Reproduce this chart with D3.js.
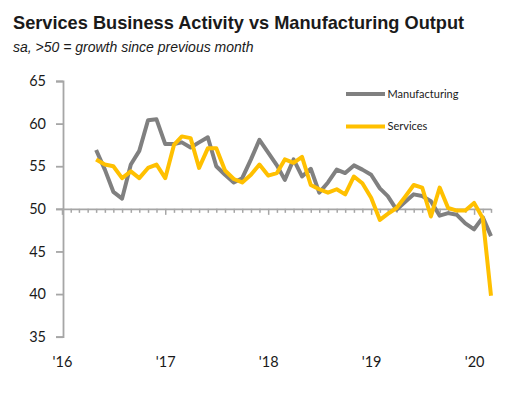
<!DOCTYPE html>
<html>
<head>
<meta charset="utf-8">
<script src="https://cdn.jsdelivr.net/npm/d3@7"></script>
<style>
  html, body { margin: 0; padding: 0; background: #ffffff; }
  svg { display: block; }
</style>
</head>
<body>
<script>
// ---- data ----
const months = [
  "2016-05","2016-06","2016-07","2016-08","2016-09","2016-10","2016-11","2016-12",
  "2017-01","2017-02","2017-03","2017-04","2017-05","2017-06","2017-07","2017-08","2017-09","2017-10","2017-11","2017-12",
  "2018-01","2018-02","2018-03","2018-04","2018-05","2018-06","2018-07","2018-08","2018-09","2018-10","2018-11","2018-12",
  "2019-01","2019-02","2019-03","2019-04","2019-05","2019-06","2019-07","2019-08","2019-09","2019-10","2019-11","2019-12",
  "2020-01","2020-02","2020-03"
];
const manufacturing = [
  56.9, 54.6, 52.0, 51.2, 55.2, 56.8, 60.4, 60.5,
  57.6, 57.6, 57.8, 57.2, 57.8, 58.4, 55.0, 54.0, 53.1, 53.6, 55.8, 58.1,
  56.6, 55.1, 53.4, 55.8, 53.8, 54.7, 51.9, 53.1, 54.6, 54.2, 55.1, 54.6,
  54.0, 52.4, 51.5, 49.9, 50.8, 51.7, 51.5, 50.9, 49.2, 49.5, 49.3, 48.3,
  47.6, 49.0, 46.8
];
const services = [
  55.8, 55.2, 55.0, 53.6, 54.4, 53.6, 54.8, 55.2,
  53.6, 57.5, 58.5, 58.3, 54.8, 57.1, 57.1, 54.5, 53.5, 53.1, 54.0, 55.2,
  53.9, 54.2, 55.8, 55.4, 56.1, 52.8, 52.3, 51.9, 52.3, 51.7, 53.8, 53.0,
  51.3, 48.7, 49.4, 50.1, 51.4, 52.8, 52.5, 49.1, 52.5, 50.1, 49.8, 49.8,
  50.7, 48.9, 39.8
];
const yTicks = [35, 40, 45, 50, 55, 60, 65];
const yearTicks = ["2016-01","2017-01","2018-01","2019-01","2020-01"];
const yearLabels = ["'16","'17","'18","'19","'20"];
const seriesNames = ["Manufacturing", "Services"];
const seriesColors = ["#808080", "#FFC000"];

// ---- chart ----
const W = 512, H = 393;
const parse = d3.timeParse("%Y-%m");
const svg = d3.select("body").append("svg").attr("width", W).attr("height", H);

const x = d3.scaleTime()
  .domain([parse("2016-01"), parse("2020-03")])
  .range([62, 491]);
const y = d3.scaleLinear().domain([35, 65]).range([336.7, 81]);

// Title
svg.append("text").attr("x", 13).attr("y", 28.5)
  .attr("font-family", "Liberation Sans, Arial, sans-serif")
  .attr("font-weight", "bold").attr("font-size", 18.2).attr("fill", "#1a1a1a")
  .text("Services Business Activity vs Manufacturing Output");
svg.append("text").attr("x", 13).attr("y", 52)
  .attr("font-family", "Liberation Sans, Arial, sans-serif")
  .attr("font-style", "italic").attr("font-size", 14).attr("fill", "#1a1a1a")
  .text("sa, >50 = growth since previous month");

const axisColor = "#a6a6a6";
const tickFont = "Lato, 'Open Sans', sans-serif";

// Y axis
const yAxis = svg.append("g").attr("transform", "translate(63,0)")
  .call(d3.axisLeft(y).tickValues(yTicks).tickSize(7).tickSizeOuter(7).tickPadding(10));
yAxis.select(".domain").attr("stroke", axisColor).attr("stroke-width", 1.8);
yAxis.selectAll(".tick line").attr("stroke", axisColor).attr("stroke-width", 1.8);
yAxis.selectAll(".tick text").attr("font-family", tickFont).attr("font-size", 14.5).attr("fill", "#1a1a1a");

// Monthly axis at 50
const monthTicks = d3.timeMonth.range(parse("2016-01"), d3.timeMonth.offset(parse("2020-03"), 1));
const mAxis = svg.append("g").attr("transform", `translate(0,${y(50)})`)
  .call(d3.axisBottom(x).tickValues(monthTicks).tickSize(4).tickSizeOuter(0).tickFormat(""));
mAxis.select(".domain").attr("stroke", axisColor).attr("stroke-width", 1.8)
  .attr("d", `M56,0.5H${x(parse("2020-03"))}`);
mAxis.selectAll(".tick line").attr("stroke", axisColor).attr("stroke-width", 1.5)
  .attr("y2", d => d.getMonth() === 0 ? 6 : 4);

// Year labels
const yrAxis = svg.append("g").attr("transform", "translate(0,357)")
  .call(d3.axisBottom(x).tickValues(yearTicks.map(parse)).tickSize(0)
    .tickFormat((d, i) => yearLabels[i]));
yrAxis.select(".domain").remove();
yrAxis.selectAll(".tick text").attr("font-family", tickFont).attr("font-size", 14.5)
  .attr("fill", "#1a1a1a").attr("dy", "0.71em").attr("y", 0);

// Lines
const dates = months.map(parse);
const line = d3.line().x((d, i) => x(dates[i])).y(d => y(d));
[manufacturing, services].forEach((s, k) => {
  svg.append("path").datum(s).attr("d", line)
    .attr("fill", "none").attr("stroke", seriesColors[k]).attr("stroke-width", 4)
    .attr("stroke-linejoin", "round");
});

// Legend
const legY = [94, 126.5];
seriesNames.forEach((n, k) => {
  svg.append("line").attr("x1", 346).attr("x2", 385).attr("y1", legY[k]).attr("y2", legY[k])
    .attr("stroke", seriesColors[k]).attr("stroke-width", 4);
  svg.append("text").attr("x", 387.5).attr("y", legY[k]).attr("dy", "0.35em")
    .attr("font-family", tickFont).attr("font-size", 11).attr("fill", "#1a1a1a")
    .text(n);
});
</script>
</body>
</html>
